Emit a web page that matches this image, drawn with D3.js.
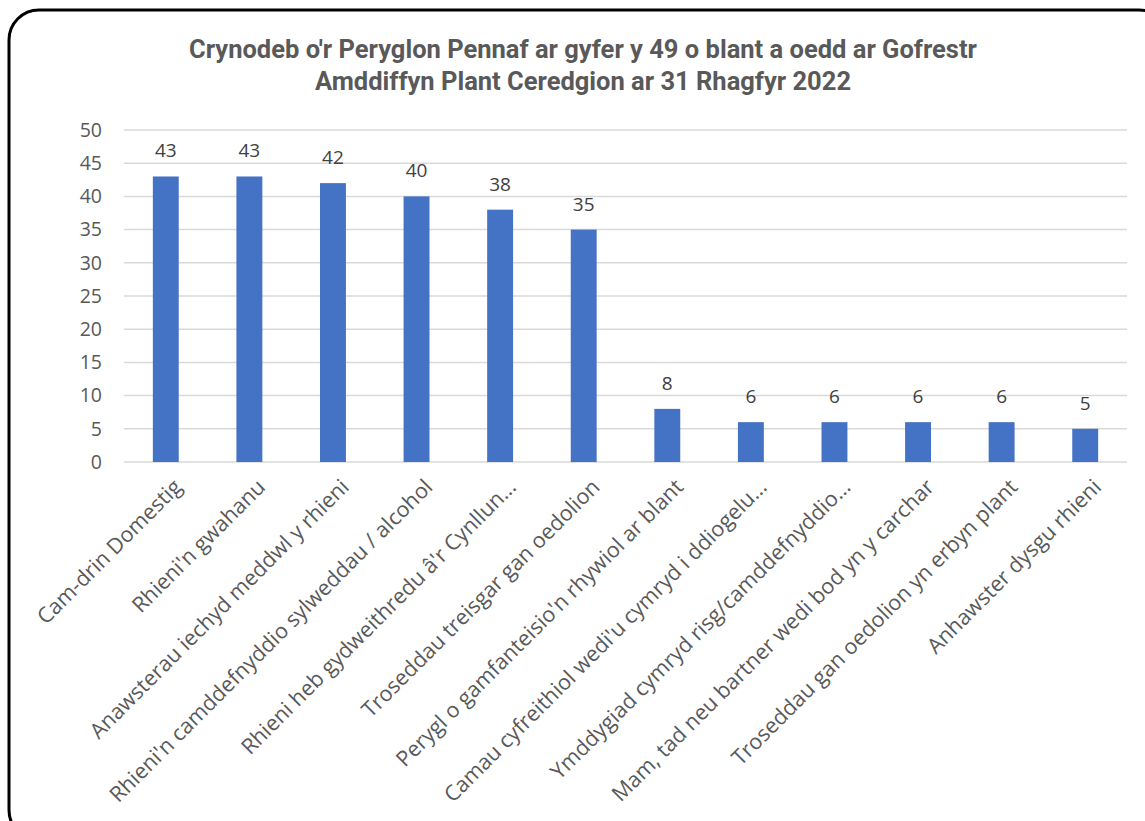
<!DOCTYPE html>
<html>
<head>
<meta charset="utf-8">
<script src="https://cdn.jsdelivr.net/npm/d3@7"></script>
<style>
  body { margin: 0; background: #fff; }
  svg { display: block; }
</style>
</head>
<body>
<svg id="chart" width="1145" height="821"></svg>
<script>
const categories = [
    "Cam-drin Domestig",
    "Rhieni'n gwahanu",
    "Anawsterau iechyd meddwl y rhieni",
    "Rhieni'n camddefnyddio sylweddau / alcohol",
    "Rhieni heb gydweithredu â'r Cynllun…",
    "Troseddau treisgar gan oedolion",
    "Perygl o gamfanteisio'n rhywiol ar blant",
    "Camau cyfreithiol wedi'u cymryd i ddiogelu…",
    "Ymddygiad cymryd risg/camddefnyddio…",
    "Mam, tad neu bartner wedi bod yn y carchar",
    "Troseddau gan oedolion yn erbyn plant",
    "Anhawster dysgu rhieni"
];
const values = [43, 43, 42, 40, 38, 35, 8, 6, 6, 6, 6, 5];
const yTicks = [0, 5, 10, 15, 20, 25, 30, 35, 40, 45, 50];
const titleLines = [
    "Crynodeb o'r Peryglon Pennaf ar gyfer y 49 o blant a oedd ar Gofrestr",
    "Amddiffyn Plant Ceredgion ar 31 Rhagfyr 2022"
];

const svg = d3.select("#chart");
const margin = { top: 130, left: 124, right: 18, bottom: 359 };
const width = 1145, height = 821;
const innerWidth = width - margin.left - margin.right;
const innerHeight = height - margin.top - margin.bottom;

// outer rounded frame (runs off the right and bottom edges like the original)
svg.append("rect")
    .attr("x", 9).attr("y", 10)
    .attr("width", 1160).attr("height", 830)
    .attr("rx", 30).attr("ry", 30)
    .attr("fill", "none")
    .attr("stroke", "#000")
    .attr("stroke-width", 3);

const g = svg.append("g")
    .attr("transform", "translate(" + margin.left + "," + margin.top + ")");

const xScale = d3.scaleBand()
    .domain(categories)
    .range([0, innerWidth])
    .paddingInner(0.69)
    .paddingOuter(0.345);

const yScale = d3.scaleLinear()
    .domain([0, 50])
    .range([innerHeight, 0]);

// gridlines
g.append("g")
    .selectAll("line")
    .data(yTicks)
    .join("line")
    .attr("x1", 0).attr("x2", innerWidth)
    .attr("y1", d => yScale(d)).attr("y2", d => yScale(d))
    .attr("stroke", "#d9d9d9")
    .attr("stroke-width", 1.5);

// y labels
g.append("g")
    .selectAll("text")
    .data(yTicks)
    .join("text")
    .attr("x", -22)
    .attr("y", d => yScale(d))
    .attr("dy", "0.35em")
    .attr("text-anchor", "end")
    .attr("fill", "#595959")
    .style("font-family", "'Open Sans', sans-serif")
    .style("font-size", "19.5px")
    .text(d => d);

// bars
g.selectAll(".bar")
    .data(values)
    .join("rect")
    .attr("class", "bar")
    .attr("x", (d, i) => xScale(categories[i]))
    .attr("width", xScale.bandwidth())
    .attr("y", d => yScale(d))
    .attr("height", d => innerHeight - yScale(d))
    .attr("fill", "#4472c4");

// value labels
g.selectAll(".val")
    .data(values)
    .join("text")
    .attr("class", "val")
    .attr("x", (d, i) => xScale(categories[i]) + xScale.bandwidth() / 2)
    .attr("y", d => yScale(d) - 19)
    .attr("text-anchor", "middle")
    .attr("fill", "#404040")
    .style("font-family", "'Open Sans', sans-serif")
    .style("font-size", "19px")
    .text(d => d);

// category labels, rotated -45
g.append("g")
    .selectAll("text")
    .data(categories)
    .join("text")
    .attr("transform", d => "translate(" + (xScale(d) + xScale.bandwidth() / 2 + 12) + "," + (innerHeight + 21) + ") rotate(-45)")
    .attr("dy", "0.35em")
    .attr("text-anchor", "end")
    .attr("fill", "#595959")
    .style("font-family", "'Open Sans', sans-serif")
    .style("font-size", "21.5px")
    .text(d => d);

// title
svg.append("g")
    .selectAll("text")
    .data(titleLines)
    .join("text")
    .attr("x", 583)
    .attr("y", (d, i) => 58 + i * 32)
    .attr("text-anchor", "middle")
    .attr("fill", "#595959")
    .style("font-family", "Roboto, sans-serif")
    .style("font-weight", "bold")
    .style("font-size", "25.5px")
    .text(d => d);
</script>
</body>
</html>
